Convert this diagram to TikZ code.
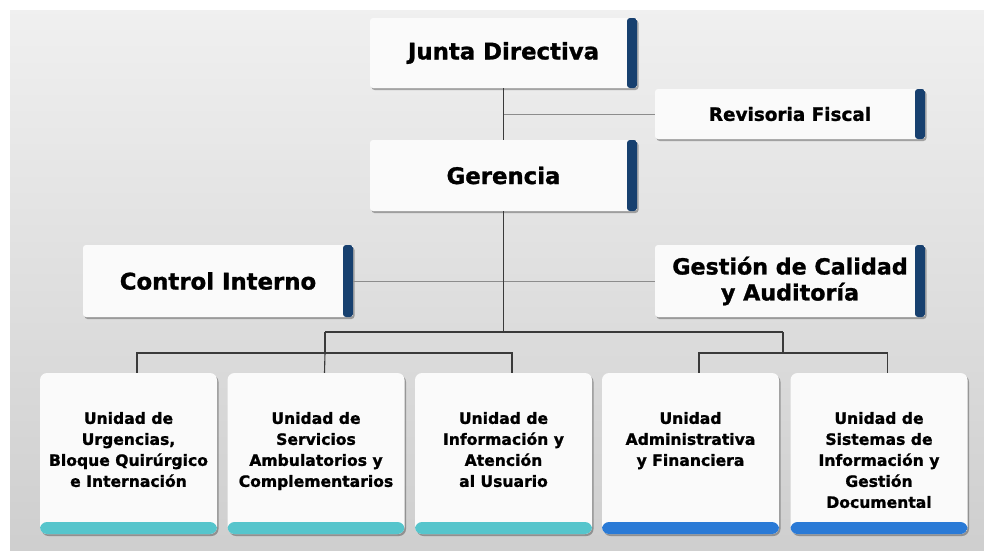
\documentclass[tikz,border=0pt]{standalone}
\usepackage{fontspec}
\setmainfont{DejaVu Sans}[BoldFeatures={FakeBold=1.2}]
\usetikzlibrary{shadows}
\definecolor{navy}{HTML}{17406F}
\definecolor{teal}{HTML}{56C5CC}
\definecolor{bandblue}{HTML}{2A7AD6}
\definecolor{boxwhite}{HTML}{FAFAFA}
\definecolor{linedark}{HTML}{3A3A3A}
\definecolor{linelight}{HTML}{8C8C8C}
\tikzset{
  shadowed/.style={drop shadow={shadow xshift=1.5pt, shadow yshift=-2pt, opacity=0.3, fill=black}},
  barbox/.style={rectangle, rounded corners=3pt, fill=boxwhite, shadowed, inner sep=0pt,
    align=center, font=\bfseries\fontsize{22.8}{27}\selectfont,
    path picture={\fill[navy] ([xshift=-10pt]path picture bounding box.north east) rectangle (path picture bounding box.south east);}},
  unitbox/.style={rectangle, rounded corners=7pt, fill=boxwhite, shadowed, inner sep=0pt,
    minimum width=177pt, minimum height=161pt},
  tealbox/.style={unitbox, path picture={\fill[teal] (path picture bounding box.south west) rectangle ([yshift=12pt]path picture bounding box.south east);}},
  bluebox/.style={unitbox, path picture={\fill[bandblue] (path picture bounding box.south west) rectangle ([yshift=12pt]path picture bounding box.south east);}},
  unittext/.style={anchor=north, align=center, inner sep=0pt, font=\bfseries\fontsize{15.6}{21}\selectfont},
  mainline/.style={draw=linedark, line width=1.1pt},
  sideline/.style={draw=linelight, line width=0.6pt}
}
\begin{document}
\begin{tikzpicture}[x=1pt,y=-1pt]
\useasboundingbox (0,0) rectangle (984,554);
\shade[top color=white!94!black, bottom color=white!81!black] (10,10) rectangle (984,550);

\coordinate (bus) at (503.5,332);
\coordinate (busL) at (325,332);
\coordinate (busR) at (783,332);
\coordinate (subL) at (325,353);
\coordinate (subR) at (783,353);

% top boxes
\node[barbox, minimum width=267pt, minimum height=70pt] (junta) at (503.5,53) {Junta Directiva};
\node[barbox, minimum width=267pt, minimum height=71pt] (ger) at (503.5,175.5) {Gerencia};
\node[barbox, minimum width=270pt, minimum height=50pt, font=\bfseries\fontsize{18.4}{22}\selectfont] (rev) at (790,114) {Revisoria Fiscal};
\node[barbox, minimum width=270pt, minimum height=72pt] (ci) at (218,281) {Control Interno};
\node[barbox, minimum width=270pt, minimum height=72pt, font=\bfseries\fontsize{22.2}{26}\selectfont] (gc) at (790,281) {Gestión de Calidad\\y Auditoría};

% bottom boxes
\node[tealbox] (b1) at (128.5,453.5) {};
\node[tealbox] (b2) at (316,453.5) {};
\node[tealbox] (b3) at (503.5,453.5) {};
\node[bluebox] (b4) at (690.5,453.5) {};
\node[bluebox] (b5) at (879,453.5) {};

\node[unittext] (t1) at ([yshift=-39pt]b1.north) {Unidad de\\Urgencias,\\Bloque Quirúrgico\\e Internación};
\node[unittext] (t2) at ([yshift=-39pt]b2.north) {Unidad de\\Servicios\\Ambulatorios y\\Complementarios};
\node[unittext] (t3) at ([yshift=-39pt]b3.north) {Unidad de\\Información y\\Atención\\al Usuario};
\node[unittext] (t4) at ([yshift=-39pt]b4.north) {Unidad\\Administrativa\\y Financiera};
\node[unittext] (t5) at ([yshift=-39pt]b5.north) {Unidad de\\Sistemas de\\Información y\\Gestión\\Documental};

% connectors
\draw[mainline] (junta.south) -- (ger.north);
\draw[sideline] (rev.west) -- (rev.west -| junta.south);
\draw[sideline] (ci.east) -- (gc.west);
\draw[mainline] (ger.south) -- (bus);
\draw[mainline] (busL) -- (busR);
\draw[mainline] (busL) -- (subL);
\draw[mainline] (busR) -- (subR);
\draw[mainline] ([xshift=8.5pt]b1.north) |- ([xshift=8.5pt]b3.north |- subL) -- ([xshift=8.5pt]b3.north);
\draw[mainline] (subL) -- ([xshift=8.5pt]b2.north);
\draw[mainline] ([xshift=8.5pt]b4.north) |- ([xshift=8.5pt]b5.north |- subR) -- ([xshift=8.5pt]b5.north);
\end{tikzpicture}
\end{document}
